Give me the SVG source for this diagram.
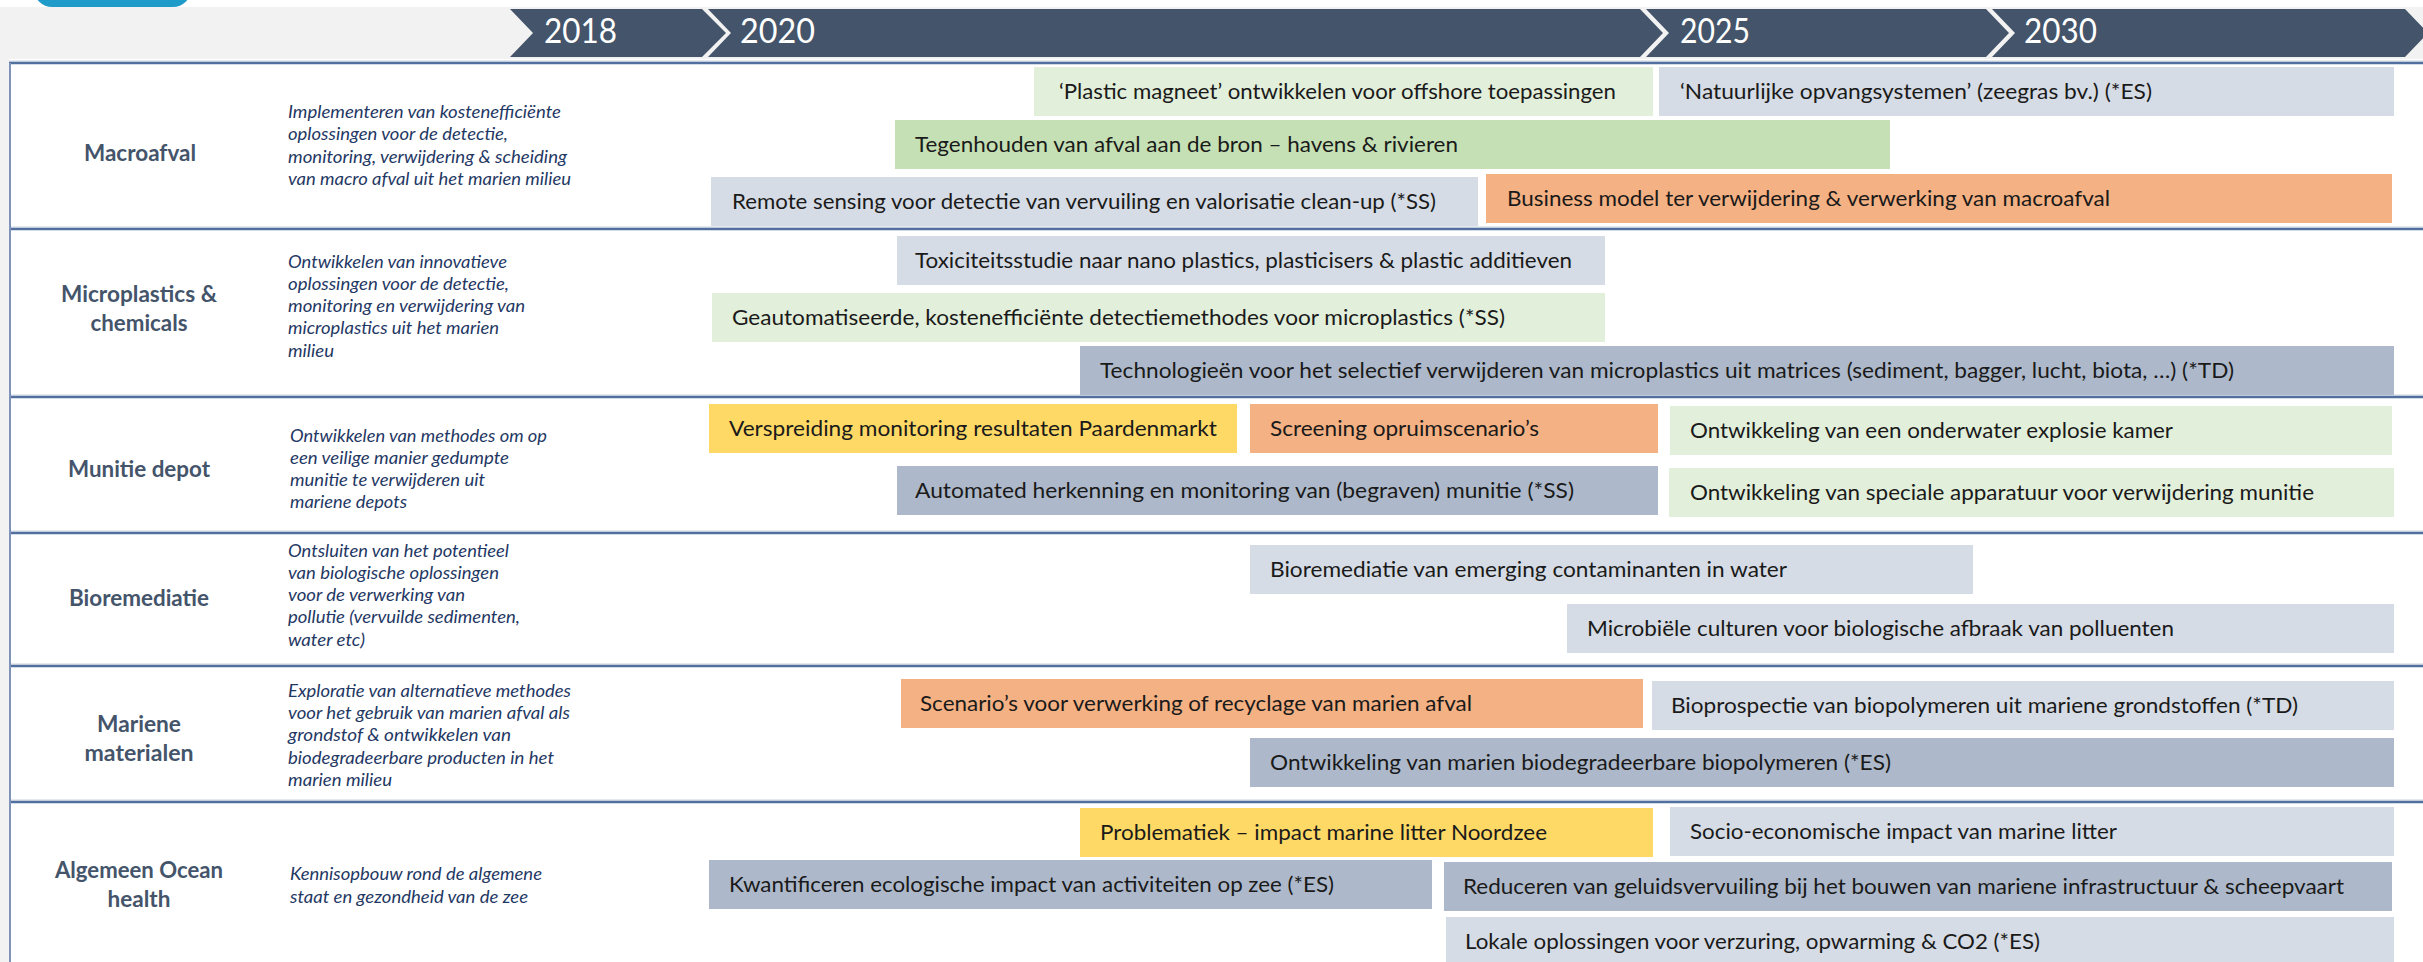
<svg xmlns="http://www.w3.org/2000/svg" width="2423" height="962" viewBox="0 0 2423 962">
<style>
.bg{fill:#f2f2f2}
.chev{fill:#44546a}
.yr{font-family:Lato,"Liberation Sans",sans-serif;font-size:34px;fill:#ffffff}
.rl{stroke:#51709f;stroke-width:2.5;fill:none}
.rl2{stroke:#c9d1de;stroke-width:1;fill:none}
.lbl{font-family:Lato,"Liberation Sans",sans-serif;font-size:22px;font-weight:bold;fill:#44546a;text-anchor:middle}
.desc{font-family:Lato,"Liberation Sans",sans-serif;font-size:17px;font-style:italic;fill:#1f3864}
.t{font-family:Lato,"Liberation Sans",sans-serif;font-size:22px;fill:#1a1a1a}
.lg{fill:#d6dce5}.mg{fill:#adb9ca}.lgr{fill:#e2efda}.gr{fill:#c5e0b4}.or{fill:#f4b183}.ye{fill:#ffd966}
</style>
<rect x="0" y="0" width="2423" height="962" fill="#ffffff"/>
<g id="background">
<rect class="bg" x="0" y="7" width="2423" height="52"/>
<rect class="bg" x="0" y="59" width="9" height="903"/>
<rect x="34" y="-40" width="157" height="47" rx="18" fill="#1f9bc9"/>
</g>
<g id="timeline">
<polygon class="chev" points="510,9 702,9 726,33 702,57 510,57 533,33"/>
<polygon class="chev" points="708,9 1640,9 1663,33 1640,57 708,57 731,33"/>
<polygon class="chev" points="1646,9 1986,9 2009,33 1986,57 1646,57 1669,33"/>
<polygon class="chev" points="1992,9 2405,9 2428,33 2405,57 1992,57 2015,33"/>
<text class="yr" x="544" y="43" textLength="73" lengthAdjust="spacingAndGlyphs">2018</text>
<text class="yr" x="740" y="43" textLength="75" lengthAdjust="spacingAndGlyphs">2020</text>
<text class="yr" x="1680" y="43" textLength="70" lengthAdjust="spacingAndGlyphs">2025</text>
<text class="yr" x="2024" y="43" textLength="73" lengthAdjust="spacingAndGlyphs">2030</text>
</g>
<g id="grid">
<line class="rl2" x1="9" y1="61" x2="2423" y2="61"/>
<line class="rl2" x1="9" y1="227" x2="2423" y2="227"/>
<line class="rl2" x1="9" y1="395" x2="2423" y2="395"/>
<line class="rl2" x1="9" y1="531" x2="2423" y2="531"/>
<line class="rl2" x1="9" y1="664" x2="2423" y2="664"/>
<line class="rl2" x1="9" y1="800" x2="2423" y2="800"/>
<line class="rl" x1="9" y1="63" x2="2423" y2="63"/>
<line class="rl" x1="9" y1="229" x2="2423" y2="229"/>
<line class="rl" x1="9" y1="397" x2="2423" y2="397"/>
<line class="rl" x1="9" y1="533" x2="2423" y2="533"/>
<line class="rl" x1="9" y1="666" x2="2423" y2="666"/>
<line class="rl" x1="9" y1="802" x2="2423" y2="802"/>
<line x1="10" y1="63" x2="10" y2="962" stroke="#7f93b8" stroke-width="2"/>
</g>
<g id="row-macroafval">
<text class="lbl" x="140" y="161" textLength="112" lengthAdjust="spacingAndGlyphs">Macroafval</text>
<text class="desc" x="288" y="118" textLength="273" lengthAdjust="spacingAndGlyphs">Implementeren van kostenefficiënte</text>
<text class="desc" x="288" y="140" textLength="220" lengthAdjust="spacingAndGlyphs">oplossingen voor de detectie,</text>
<text class="desc" x="288" y="163" textLength="279" lengthAdjust="spacingAndGlyphs">monitoring, verwijdering &amp; scheiding</text>
<text class="desc" x="288" y="185" textLength="283" lengthAdjust="spacingAndGlyphs">van macro afval uit het marien milieu</text>
</g>
<g id="row-microplastics">
<text class="lbl" x="139" y="302" textLength="156" lengthAdjust="spacingAndGlyphs">Microplastics &amp;</text>
<text class="lbl" x="139" y="331" textLength="97" lengthAdjust="spacingAndGlyphs">chemicals</text>
<text class="desc" x="288" y="268" textLength="219" lengthAdjust="spacingAndGlyphs">Ontwikkelen van innovatieve</text>
<text class="desc" x="288" y="290" textLength="221" lengthAdjust="spacingAndGlyphs">oplossingen voor de detectie,</text>
<text class="desc" x="288" y="312" textLength="237" lengthAdjust="spacingAndGlyphs">monitoring en verwijdering van</text>
<text class="desc" x="288" y="334" textLength="211" lengthAdjust="spacingAndGlyphs">microplastics uit het marien</text>
<text class="desc" x="288" y="357" textLength="46" lengthAdjust="spacingAndGlyphs">milieu</text>
</g>
<g id="row-munitie">
<text class="lbl" x="139" y="477" textLength="142" lengthAdjust="spacingAndGlyphs">Munitie depot</text>
<text class="desc" x="290" y="442" textLength="257" lengthAdjust="spacingAndGlyphs">Ontwikkelen van methodes om op</text>
<text class="desc" x="290" y="464" textLength="219" lengthAdjust="spacingAndGlyphs">een veilige manier gedumpte</text>
<text class="desc" x="290" y="486" textLength="195" lengthAdjust="spacingAndGlyphs">munitie te verwijderen uit</text>
<text class="desc" x="290" y="508" textLength="117" lengthAdjust="spacingAndGlyphs">mariene depots</text>
</g>
<g id="row-bioremediatie">
<text class="lbl" x="139" y="606" textLength="140" lengthAdjust="spacingAndGlyphs">Bioremediatie</text>
<text class="desc" x="288" y="557" textLength="221" lengthAdjust="spacingAndGlyphs">Ontsluiten van het potentieel</text>
<text class="desc" x="288" y="579" textLength="211" lengthAdjust="spacingAndGlyphs">van biologische oplossingen</text>
<text class="desc" x="288" y="601" textLength="177" lengthAdjust="spacingAndGlyphs">voor de verwerking van</text>
<text class="desc" x="288" y="623" textLength="232" lengthAdjust="spacingAndGlyphs">pollutie (vervuilde sedimenten,</text>
<text class="desc" x="288" y="646" textLength="77" lengthAdjust="spacingAndGlyphs">water etc)</text>
</g>
<g id="row-mariene">
<text class="lbl" x="139" y="732" textLength="84" lengthAdjust="spacingAndGlyphs">Mariene</text>
<text class="lbl" x="139" y="761" textLength="109" lengthAdjust="spacingAndGlyphs">materialen</text>
<text class="desc" x="288" y="697" textLength="283" lengthAdjust="spacingAndGlyphs">Exploratie van alternatieve methodes</text>
<text class="desc" x="288" y="719" textLength="282" lengthAdjust="spacingAndGlyphs">voor het gebruik van marien afval als</text>
<text class="desc" x="288" y="741" textLength="223" lengthAdjust="spacingAndGlyphs">grondstof  &amp; ontwikkelen van</text>
<text class="desc" x="288" y="764" textLength="266" lengthAdjust="spacingAndGlyphs">biodegradeerbare producten in het</text>
<text class="desc" x="288" y="786" textLength="104" lengthAdjust="spacingAndGlyphs">marien milieu</text>
</g>
<g id="row-algemeen">
<text class="lbl" x="139" y="878" textLength="168" lengthAdjust="spacingAndGlyphs">Algemeen Ocean</text>
<text class="lbl" x="139" y="907" textLength="63" lengthAdjust="spacingAndGlyphs">health</text>
<text class="desc" x="290" y="880" textLength="252" lengthAdjust="spacingAndGlyphs">Kennisopbouw rond de algemene</text>
<text class="desc" x="290" y="903" textLength="238" lengthAdjust="spacingAndGlyphs">staat en gezondheid van de zee</text>
</g>
<g id="task-plastic-magneet"><rect class="lgr" x="1034" y="67" width="619" height="49"/><text class="t" x="1059" y="99" textLength="557" lengthAdjust="spacingAndGlyphs">‘Plastic magneet’ ontwikkelen voor offshore toepassingen</text></g>
<g id="task-natuurlijke"><rect class="lg" x="1659" y="67" width="735" height="49"/><text class="t" x="1680" y="99" textLength="472" lengthAdjust="spacingAndGlyphs">‘Natuurlijke opvangsystemen’ (zeegras bv.) (*ES)</text></g>
<g id="task-tegenhouden"><rect class="gr" x="895" y="120" width="995" height="49"/><text class="t" x="915" y="152" textLength="543" lengthAdjust="spacingAndGlyphs">Tegenhouden van afval aan de bron – havens &amp; rivieren</text></g>
<g id="task-remote-sensing"><rect class="lg" x="711" y="177" width="767" height="49"/><text class="t" x="732" y="209" textLength="704" lengthAdjust="spacingAndGlyphs">Remote sensing voor detectie van vervuiling en valorisatie clean-up (*SS)</text></g>
<g id="task-business-model"><rect class="or" x="1486" y="174" width="906" height="49"/><text class="t" x="1507" y="206" textLength="603" lengthAdjust="spacingAndGlyphs">Business model ter verwijdering &amp; verwerking van macroafval</text></g>
<g id="task-toxiciteit"><rect class="lg" x="897" y="236" width="708" height="49"/><text class="t" x="915" y="268" textLength="657" lengthAdjust="spacingAndGlyphs">Toxiciteitsstudie naar nano plastics, plasticisers &amp; plastic additieven</text></g>
<g id="task-geautomatiseerde"><rect class="lgr" x="712" y="293" width="893" height="49"/><text class="t" x="732" y="325" textLength="773" lengthAdjust="spacingAndGlyphs">Geautomatiseerde, kostenefficiënte detectiemethodes voor microplastics (*SS)</text></g>
<g id="task-technologieen"><rect class="mg" x="1080" y="346" width="1314" height="49"/><text class="t" x="1100" y="378" textLength="1134" lengthAdjust="spacingAndGlyphs">Technologieën voor het selectief verwijderen van microplastics uit matrices (sediment, bagger, lucht, biota, …) (*TD)</text></g>
<g id="task-verspreiding"><rect class="ye" x="709" y="404" width="528" height="49"/><text class="t" x="729" y="436" textLength="488" lengthAdjust="spacingAndGlyphs">Verspreiding monitoring resultaten Paardenmarkt</text></g>
<g id="task-screening"><rect class="or" x="1250" y="404" width="408" height="49"/><text class="t" x="1270" y="436" textLength="269" lengthAdjust="spacingAndGlyphs">Screening opruimscenario’s</text></g>
<g id="task-explosie-kamer"><rect class="lgr" x="1670" y="406" width="722" height="49"/><text class="t" x="1690" y="438" textLength="483" lengthAdjust="spacingAndGlyphs">Ontwikkeling van een onderwater explosie kamer</text></g>
<g id="task-automated"><rect class="mg" x="897" y="466" width="761" height="49"/><text class="t" x="915" y="498" textLength="659" lengthAdjust="spacingAndGlyphs">Automated herkenning en monitoring van (begraven) munitie (*SS)</text></g>
<g id="task-apparatuur"><rect class="lgr" x="1669" y="468" width="725" height="49"/><text class="t" x="1690" y="500" textLength="624" lengthAdjust="spacingAndGlyphs">Ontwikkeling van speciale apparatuur voor verwijdering munitie</text></g>
<g id="task-bioremediatie-water"><rect class="lg" x="1250" y="545" width="723" height="49"/><text class="t" x="1270" y="577" textLength="517" lengthAdjust="spacingAndGlyphs">Bioremediatie van emerging contaminanten in water</text></g>
<g id="task-microbiele"><rect class="lg" x="1567" y="604" width="827" height="49"/><text class="t" x="1587" y="636" textLength="587" lengthAdjust="spacingAndGlyphs">Microbiële culturen voor biologische afbraak van polluenten</text></g>
<g id="task-scenarios"><rect class="or" x="901" y="679" width="742" height="49"/><text class="t" x="920" y="711" textLength="552" lengthAdjust="spacingAndGlyphs">Scenario’s voor verwerking of recyclage van marien afval</text></g>
<g id="task-bioprospectie"><rect class="lg" x="1652" y="681" width="742" height="49"/><text class="t" x="1671" y="713" textLength="627" lengthAdjust="spacingAndGlyphs">Bioprospectie van biopolymeren uit mariene grondstoffen (*TD)</text></g>
<g id="task-biopolymeren"><rect class="mg" x="1250" y="738" width="1144" height="49"/><text class="t" x="1270" y="770" textLength="621" lengthAdjust="spacingAndGlyphs">Ontwikkeling van marien biodegradeerbare biopolymeren (*ES)</text></g>
<g id="task-problematiek"><rect class="ye" x="1080" y="808" width="573" height="49"/><text class="t" x="1100" y="840" textLength="447" lengthAdjust="spacingAndGlyphs">Problematiek – impact marine litter Noordzee</text></g>
<g id="task-socio-economisch"><rect class="lg" x="1670" y="807" width="724" height="49"/><text class="t" x="1690" y="839" textLength="427" lengthAdjust="spacingAndGlyphs">Socio-economische impact van marine litter</text></g>
<g id="task-kwantificeren"><rect class="mg" x="709" y="860" width="723" height="49"/><text class="t" x="729" y="892" textLength="605" lengthAdjust="spacingAndGlyphs">Kwantificeren ecologische impact van activiteiten op zee (*ES)</text></g>
<g id="task-reduceren"><rect class="mg" x="1444" y="862" width="948" height="49"/><text class="t" x="1463" y="894" textLength="881" lengthAdjust="spacingAndGlyphs">Reduceren van geluidsvervuiling bij het bouwen van mariene infrastructuur &amp; scheepvaart</text></g>
<g id="task-lokale"><rect class="lg" x="1446" y="917" width="948" height="49"/><text class="t" x="1465" y="949" textLength="575" lengthAdjust="spacingAndGlyphs">Lokale oplossingen voor verzuring, opwarming &amp; CO2 (*ES)</text></g>
</svg>
